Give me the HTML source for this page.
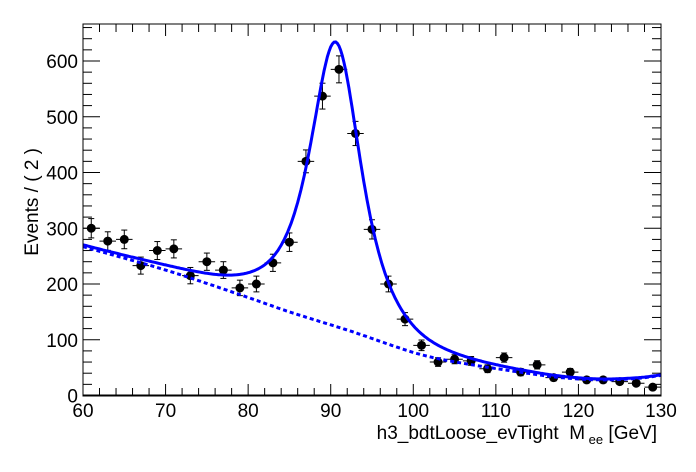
<!DOCTYPE html>
<html><head><meta charset="utf-8"><style>
html,body{margin:0;padding:0;background:#fff;}
svg{display:block;font-family:"Liberation Sans",sans-serif;}
</style></head><body>
<svg id="s" width="696" height="472" xmlns="http://www.w3.org/2000/svg">
<rect width="696" height="472" fill="#fff"/>
<g id="ax" stroke="#000" stroke-width="1" fill="none"></g>
<g id="data"></g>
<path id="bg" fill="none" stroke="#0000ff" stroke-width="3" stroke-dasharray="4,3"/>
<path id="tot" fill="none" stroke="#0000ff" stroke-width="3"/>
<rect x="83" y="24" width="578" height="372" fill="none" stroke="#000" stroke-width="1"/>
<line x1="83" y1="395.5" x2="661" y2="395.5" stroke="#000" stroke-width="2"/>
<g font-size="19" fill="#000" id="lab"></g>
<text x="657" y="439" font-size="19" text-anchor="end">h3_bdtLoose_evTight&#160;&#160;M<tspan font-size="13" dy="5">&#160;ee</tspan><tspan dy="-5">&#160;[GeV]</tspan></text>
<text transform="translate(38,148) rotate(-90)" font-size="19" text-anchor="end">Events / ( 2 )</text>
</svg>
<script>
var NS="http://www.w3.org/2000/svg";
function X(v){return 83+(v-60)*578/70;}
function Y(v){return 395.5-v*0.5575;}
function el(p,t,a,txt){var e=document.createElementNS(NS,t);for(var k in a)e.setAttribute(k,a[k]);if(txt!==undefined)e.textContent=txt;p.appendChild(e);return e;}
var ax=document.getElementById('ax'),lab=document.getElementById('lab');
for(var v=60;v<=130;v+=2){var maj=(v%10==0);el(ax,'line',{x1:X(v),x2:X(v),y1:396,y2:396-(maj?12:8)});el(ax,'line',{x1:X(v),x2:X(v),y1:24,y2:24+(maj?12:8)});
 if(maj)el(lab,'text',{x:X(v),y:417,'text-anchor':'middle'},String(v));}
for(var v=0;v<=660;v+=20){var maj=(v%100==0);el(ax,'line',{x1:83,x2:83+(maj?17:9),y1:Y(v),y2:Y(v)});el(ax,'line',{x1:661,x2:661-(maj?17:9),y1:Y(v),y2:Y(v)});
 if(maj)el(lab,'text',{x:78,y:Y(v)+7,'text-anchor':'end'},String(v));}
var bp=[[60,267],[70,225],[78.8,182],[85,150],[92.3,116],[100.3,76],[104.8,61],[113.8,40],[118,32],[122.8,28],[127.3,31],[130,36]];
function bgf(x){for(var i=0;i<bp.length-1;i++){if(x<=bp[i+1][0]){var a=bp[i],b=bp[i+1];var t=(x-a[0])/(b[0]-a[0]);
 var m0=i>0?(b[1]-bp[i-1][1])/(b[0]-bp[i-1][0]):(b[1]-a[1])/(b[0]-a[0]);
 var m1=i<bp.length-2?(bp[i+2][1]-a[1])/(bp[i+2][0]-a[0]):(b[1]-a[1])/(b[0]-a[0]);
 var h=b[0]-a[0],t2=t*t,t3=t2*t;
 return (2*t3-3*t2+1)*a[1]+(t3-2*t2+t)*h*m0+(-2*t3+3*t2)*b[1]+(t3-t2)*h*m1;}}return 36;}
function sig(x){var d=x-90.6;var p=d<0?1.3:1.5;var g=d<0?4.5:4.8;return 510/Math.pow(1+(d/g)*(d/g),p);}
var a="",b="";for(var x=60;x<=130.001;x+=0.2){a+=(x==60?"M":"L")+X(x).toFixed(1)+","+Y(bgf(x)).toFixed(1);b+=(x==60?"M":"L")+X(x).toFixed(1)+","+Y(bgf(x)+sig(x)).toFixed(1);}
document.getElementById('bg').setAttribute('d',a);document.getElementById('tot').setAttribute('d',b);
var pts=[[61,300],[63,277],[65,280],[67,233],[69,260],[71,263],[73,215],[75,240],[77,225],[79,193],[81,200],[83,238],[85,275],[87,420],[89,537],[91,585],[93,470],[95,298],[97,200],[99,137],[101,90],[103,60],[105,65],[107,62],[109,48],[111,68],[113,42],[115,55],[117,32],[119,42],[121,28],[123,28],[125,25],[127,22],[129,15]];
var g=document.getElementById('data');
pts.forEach(function(p){var cx=X(p[0]),cy=Y(p[1]),e=Math.sqrt(p[1]);
 el(g,'line',{x1:X(p[0]-1),x2:X(p[0]+1),y1:cy,y2:cy,stroke:'#000'});
 el(g,'line',{x1:cx,x2:cx,y1:Y(p[1]+e),y2:Y(Math.max(p[1]-e,0)),stroke:'#000'});
 el(g,'line',{x1:cx-3,x2:cx+3,y1:Y(p[1]+e),y2:Y(p[1]+e),stroke:'#000'});
 el(g,'line',{x1:cx-3,x2:cx+3,y1:Y(p[1]-e),y2:Y(p[1]-e),stroke:'#000'});
 el(g,'circle',{cx:cx,cy:cy,r:4.5,fill:'#000'});});
</script>
</body></html>
